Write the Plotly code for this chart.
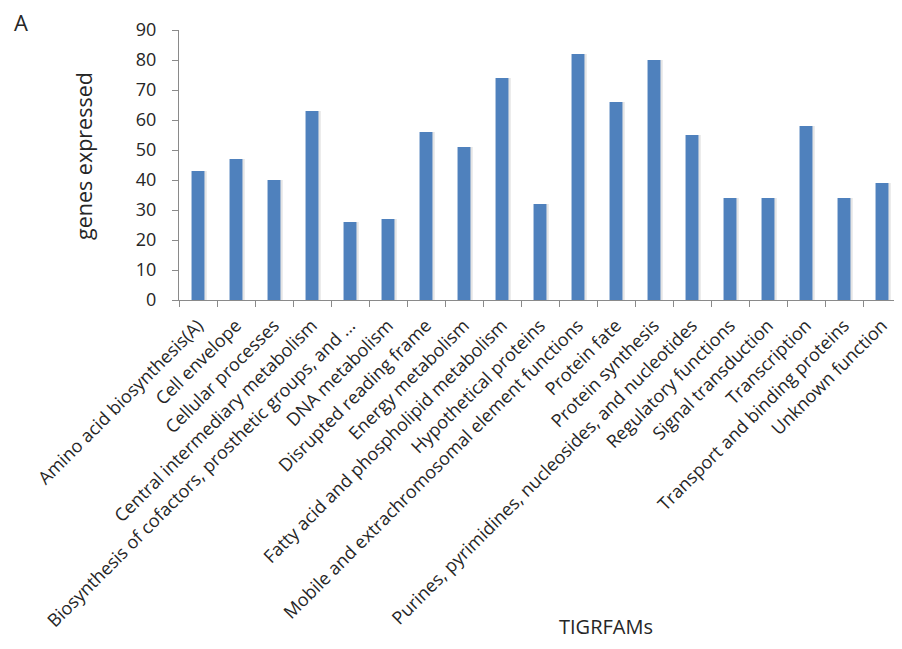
import plotly.graph_objects as go

categories = [
    "Amino acid biosynthesis(A)",
    "Cell envelope",
    "Cellular processes",
    "Central intermediary metabolism",
    "Biosynthesis of cofactors, prosthetic groups, and ...",
    "DNA metabolism",
    "Disrupted reading frame",
    "Energy metabolism",
    "Fatty acid and phospholipid metabolism",
    "Hypothetical proteins",
    "Mobile and extrachromosomal element functions",
    "Protein fate",
    "Protein synthesis",
    "Purines, pyrimidines, nucleosides, and nucleotides",
    "Regulatory functions",
    "Signal transduction",
    "Transcription",
    "Transport and binding proteins",
    "Unknown function",
]
genes_expressed = [43, 47, 40, 63, 26, 27, 56, 51, 74, 32, 82, 66, 80, 55, 34, 34, 58, 34, 39]
y_ticks = [0, 10, 20, 30, 40, 50, 60, 70, 80, 90]

FONT = "Open Sans"
OFF = 8  # page body margin in the browser
W, H = 902 - 2 * OFF, 649 - 2 * OFF
ML, MT = 179 - OFF, 30 - OFF
MB = H - (300 - OFF)
MR = 0
PW, PH = W - ML - MR, H - MT - MB
CAT_PX = 38.0  # pixel width of one category slot
X_END = -0.5 + PW / CAT_PX


def px(xw):
    return (xw - OFF - ML) / PW


def py(yw):
    return (H - MB - (yw - OFF)) / PH


fig = go.Figure()
# soft shadow behind bars
fig.add_trace(go.Bar(
    x=categories, y=genes_expressed, width=0.34, offset=-0.17 + 0.06,
    marker=dict(color="rgba(0,0,0,0.10)", line=dict(width=0)),
    hoverinfo="skip", showlegend=False,
))
fig.add_trace(go.Bar(
    x=categories, y=genes_expressed, width=0.34, offset=-0.17,
    marker=dict(color="#4F81BD", line=dict(width=0)),
    showlegend=False,
))

fig.update_layout(
    width=W, height=H,
    margin=dict(l=ML, r=MR, t=MT, b=MB, pad=0),
    paper_bgcolor="white", plot_bgcolor="white",
    barmode="overlay",
    font=dict(family=FONT, color="#262626"),
    xaxis=dict(
        type="category",
        range=[-0.5, X_END],
        showline=True, linecolor="#8a8a8a", linewidth=1,
        ticks="outside", ticklen=6, tickcolor="#8a8a8a", tickson="boundaries",
        tickangle=-45, tickfont=dict(size=18, family=FONT, color="#262626"),
        ticklabelstandoff=7,
        showgrid=False, zeroline=False,
        automargin=False,
    ),
    yaxis=dict(
        range=[0, 90],
        tickvals=y_ticks,
        showline=True, linecolor="#8a8a8a", linewidth=1,
        ticks="outside", ticklen=6, tickcolor="#8a8a8a",
        tickfont=dict(size=18, family=FONT, color="#262626"),
        ticklabelstandoff=12,
        showgrid=False, zeroline=False,
        automargin=False,
    ),
    annotations=[
        dict(text="A", xref="paper", yref="paper",
             x=px(21), y=py(22),
             xanchor="center", yanchor="middle", showarrow=False,
             font=dict(size=22, family=FONT, color="#262626")),
        dict(text="genes expressed", xref="paper", yref="paper",
             x=px(83), y=py(156), textangle=-90,
             xanchor="center", yanchor="middle", showarrow=False,
             font=dict(size=21.5, family=FONT, color="#262626")),
        dict(text="TIGRFAMs", xref="paper", yref="paper",
             x=px(606), y=py(626),
             xanchor="center", yanchor="middle", showarrow=False,
             font=dict(size=20, family=FONT, color="#262626")),
    ],
)

fig.write_html("out.html")
